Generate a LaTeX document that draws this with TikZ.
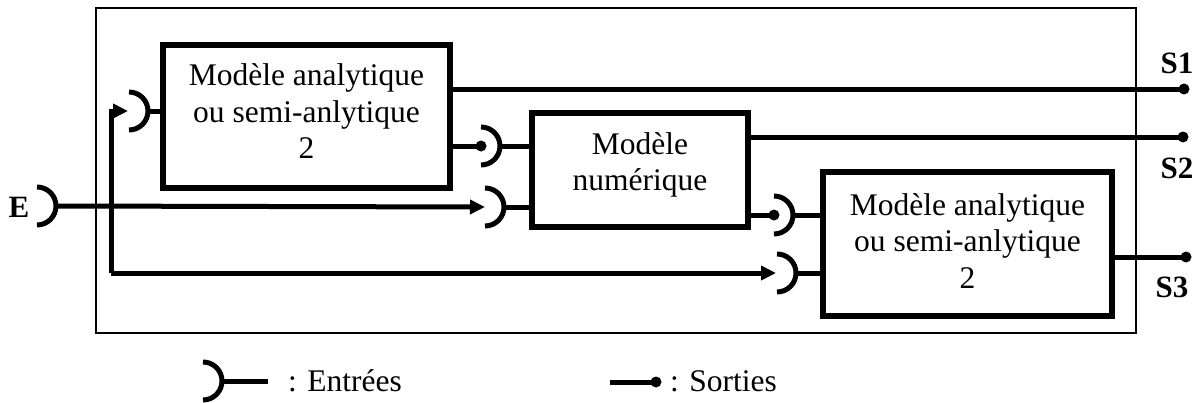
\documentclass[tikz,border=0pt]{standalone}
\usepackage{fontspec}
\setmainfont{Liberation Serif}
\usetikzlibrary{arrows.meta}
\begin{document}
\begin{tikzpicture}[x=1pt,y=-1pt,
  wire/.style={line width=5pt},
  frame/.style={draw,line width=2.5pt},
  box/.style={draw,line width=5.5pt,inner sep=0pt,outer sep=0pt},
  boxtext/.style={align=center,inner sep=0pt,font=\fontsize{31.5}{36.5}\selectfont},
  lbl/.style={font=\fontsize{31}{36}\selectfont\bfseries,inner sep=0pt},
  txt/.style={font=\fontsize{31.5}{36}\selectfont,inner sep=0pt,anchor=west},
  arr/.style={wire,-{Triangle[length=15pt,width=14pt]}},
  dot/.style={circle,fill=black,inner sep=0pt,minimum size=11pt}]
\useasboundingbox (0,0) rectangle (1200,402);
\newcommand\sockarc[1]{\draw[wire] (#1) ++(0,-19) arc (-90:90:19);}
% outer frame
\draw[frame] (96,8) rectangle (1136,333);
% boxes
\node[box,minimum width=287pt,minimum height=143pt] (b1) at (306.5,116.5) {};
\node[box,minimum width=216pt,minimum height=114pt] (b2) at (640,170) {};
\node[box,minimum width=289pt,minimum height=144pt] (b3) at (967.5,244) {};
\node[boxtext] (b1t) at ([yshift=5pt]b1.center) {Modèle analytique\\ou semi-anlytique\\2};
\node[boxtext] (b2t) at ([yshift=5pt]b2.center) {Modèle\\numérique};
\node[boxtext] (b3t) at ([yshift=3pt]b3.center) {Modèle analytique\\ou semi-anlytique\\2};
% socket centres
\coordinate (sE) at (37,206);
\coordinate (s1) at (129,111);
\coordinate (s2a) at (481,146);
\coordinate (s2b) at (485,207);
\coordinate (s3a) at (774,215);
\coordinate (s3b) at (777,273);
\coordinate (loopTop) at (111,111);
\coordinate (loopBot) at (111,273);
% output dots
\node[dot] (o1) at (1184,89) {};
\node[dot] (o2) at (1183,137) {};
\node[dot] (o3) at (1186,257) {};
% sockets
\sockarc{sE}
\sockarc{s1}
\sockarc{s2a}
\sockarc{s2b}
\sockarc{s3a}
\sockarc{s3b}
% socket to box stubs
\draw[wire] ([xshift=19pt]s1) -- (b1.west |- s1);
\draw[wire] ([xshift=19pt]s2a) -- (b2.west |- s2a);
\draw[wire] ([xshift=19pt]s2b) -- (b2.west |- s2b);
\draw[wire] ([xshift=19pt]s3a) -- (b3.west |- s3a);
\draw[wire] ([xshift=19pt]s3b) -- (b3.west |- s3b);
% connections
\node[dot] (d2a) at (s2a) {};
\node[dot] (d3a) at (s3a) {};
\draw[wire] (b1.east |- s2a) -- (d2a.center);
\draw[wire] (b2.east |- s3a) -- (d3a.center);
\draw[arr] ([xshift=19pt]sE) -- (s2b);
\draw[arr] (loopBot) -- (loopTop) -- ([xshift=-1pt]s1);
\draw[arr] (loopBot) -- ([xshift=-1pt]s3b);
% outputs
\draw[wire] (b1.east |- o1) -- (o1.center);
\draw[wire] (b2.east |- o2) -- (o2.center);
\draw[wire] (b3.east |- o3) -- (o3.center);
% labels
\node[lbl] (lE) at (19,207) {E};
\node[lbl] (lS1) at (1177,63) {S1};
\node[lbl] (lS2) at (1177,168) {S2};
\node[lbl] (lS3) at (1172,287) {S3};
% legend
\coordinate (leg1) at (203,381);
\coordinate (leg1e) at (268,381);
\sockarc{leg1}
\draw[wire] ([xshift=19pt]leg1) -- (leg1e);
\node[txt] (tE) at (288,381) {: Entrées};
\coordinate (leg2) at (610,382);
\node[dot] (leg2d) at (656,382) {};
\draw[wire] (leg2) -- (leg2d.center);
\node[txt] (tS) at (670,381) {: Sorties};
\end{tikzpicture}
\end{document}
